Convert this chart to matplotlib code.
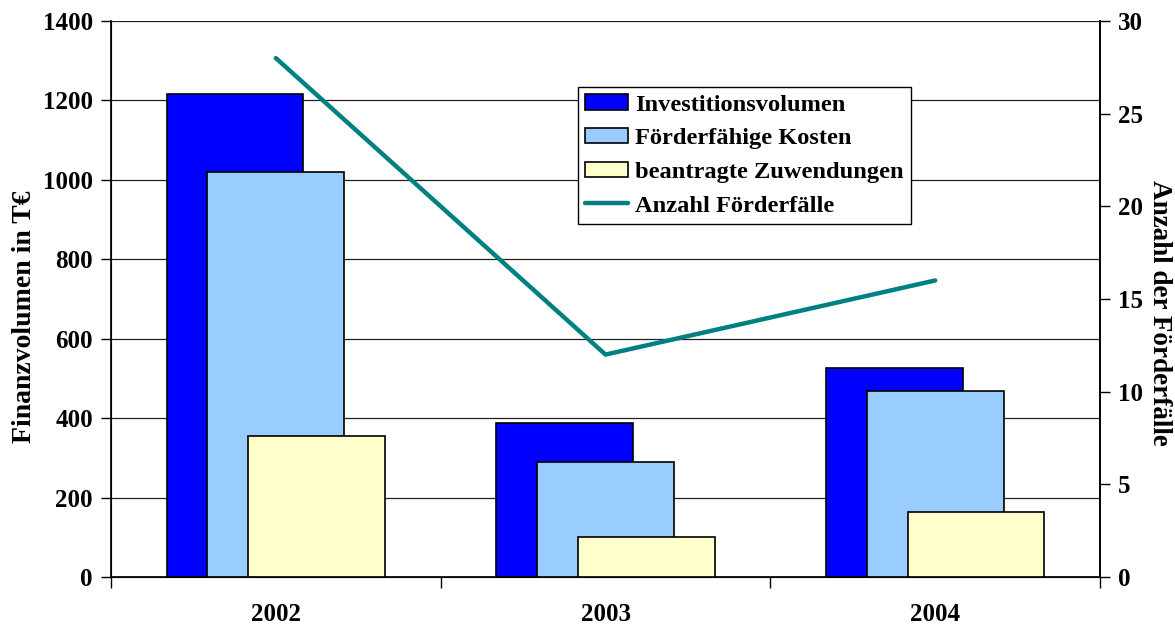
import matplotlib
matplotlib.use("Agg")
import matplotlib.pyplot as plt
import numpy as np

years = ["2002", "2003", "2004"]
investitionsvolumen = [1216, 388, 526]
foerderfaehige_kosten = [1020, 290, 468]
beantragte_zuwendungen = [355, 101, 164]
anzahl_foerderfaelle = [28, 12, 16]

left_ticks = [0, 200, 400, 600, 800, 1000, 1200, 1400]
right_ticks = [0, 5, 10, 15, 20, 25, 30]

plt.rcParams['font.family'] = ['Liberation Serif', 'DejaVu Serif']
plt.rcParams['font.weight'] = 'bold'

fig = plt.figure(figsize=(11.75, 6.26), dpi=100)
ax = fig.add_axes([111/1175, 1-577/626, (1100-111)/1175, (577-21)/626])

x = np.arange(len(years))
w = 0.415
off = 0.124
series = [
    (investitionsvolumen, "#0000FF", "Investitionsvolumen"),
    (foerderfaehige_kosten, "#99CCFF", "Förderfähige Kosten"),
    (beantragte_zuwendungen, "#FFFFCC", "beantragte Zuwendungen"),
]
handles = []
for i, (vals, col, lab) in enumerate(series):
    b = ax.bar(x + (i - 1) * off, vals, width=w, color=col, edgecolor="black",
               linewidth=1.2, label=lab, zorder=2 + i)
    handles.append(b)

ax.set_xlim(-0.5, 2.5)
ax.set_ylim(0, 1400)
ax.set_yticks(left_ticks)
ax.set_yticklabels([str(t) for t in left_ticks], fontsize=18, fontweight='bold')
ax.yaxis.grid(True, color="#222222", linewidth=0.9, zorder=0)
ax.set_axisbelow(True)
ax.set_xticks([-0.5, 0.5, 1.5, 2.5])
ax.set_xticklabels([])
ax.set_xticks(x, minor=True)
ax.set_xticklabels(years, minor=True, fontsize=18, fontweight='bold')
ax.tick_params(axis='x', which='minor', length=0, pad=19)
ax.tick_params(axis='x', which='major', length=8, direction='out', width=1)
ax.tick_params(axis='y', length=7, direction='out', width=1, pad=6)
ax.spines['top'].set_visible(False)
for s in ['left', 'bottom', 'right']:
    ax.spines[s].set_linewidth(1.2)
ax.set_ylabel("Finanzvolumen in T€", fontsize=20, fontweight='bold', labelpad=4)
ax.yaxis.label.set_y(0.468)

ax2 = ax.twinx()
ln, = ax2.plot(x, anzahl_foerderfaelle, color="#008080", linewidth=3.2,
               label="Anzahl Förderfälle", solid_capstyle='round', zorder=10)
ax2.set_ylim(0, 30)
ax2.set_yticks(right_ticks)
ax2.set_yticklabels([str(t) for t in right_ticks], fontsize=18, fontweight='bold')
ax2.tick_params(axis='y', length=7, direction='out', width=1, pad=6)
ax2.spines['top'].set_visible(False)
ax2.spines['right'].set_linewidth(1.2)
ax2.set_ylabel("Anzahl der Förderfälle", fontsize=19.5, fontweight='bold',
               rotation=-90, labelpad=21)
ax2.yaxis.label.set_y(0.475)

leg = ax2.legend(handles=handles + [ln], loc='upper left',
                 bbox_to_anchor=(578/1175, 1-87/626), bbox_transform=fig.transFigure,
                 prop={'size': 17.6, 'weight': 'bold'}, frameon=True, fancybox=False,
                 edgecolor='black', framealpha=1, borderpad=0.3, labelspacing=0.5,
                 handlelength=1.75, handleheight=0.6, handletextpad=0.3, borderaxespad=0)
leg.get_frame().set_linewidth(1.0)

fig.savefig("out.png", dpi=100)
